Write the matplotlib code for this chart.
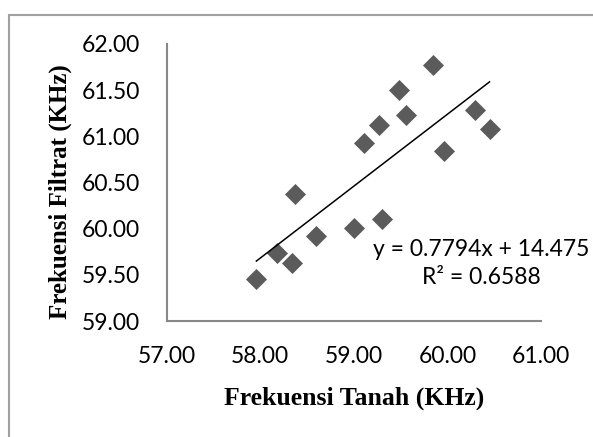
"""
Scatter of soil frequency vs filtrate frequency with a linear trendline.
"""

import matplotlib

matplotlib.use("Agg")
import matplotlib.pyplot as plt  # noqa: E402
import numpy as np  # noqa: E402
from matplotlib.patches import Rectangle  # noqa: E402

# values
frek_tanah = [57.96, 58.18, 58.34, 58.37, 58.60, 59.00, 59.30, 59.11,
              59.27, 59.48, 59.56, 59.85, 59.96, 60.29, 60.45]
frek_filtrat = [59.45, 59.74, 59.63, 60.38, 59.92, 60.01, 60.10, 60.93,
                61.12, 61.50, 61.23, 61.77, 60.84, 61.28, 61.08]
slope = 0.7794
intercept = 14.475
r_squared = 0.6588

x_ticks = [57.0, 58.0, 59.0, 60.0, 61.0]
y_ticks = [59.0, 59.5, 60.0, 60.5, 61.0, 61.5, 62.0]

TICK_FONT = "Lato"
LABEL_FONT = "Liberation Serif"


def main():
    W, H = 593, 437
    fig = plt.figure(figsize=(W / 100, H / 100), dpi=100)

    # outer chart frame (runs off the right and bottom edges)
    fig.patches.append(
        Rectangle((9 / W, -0.1), 1.2, 1 - 15 / H + 0.1,
                  transform=fig.transFigure, fill=False,
                  edgecolor="#a0a0a0", linewidth=1.5)
    )

    ax = fig.add_axes([166.5 / W, 1 - 321 / H, (541 - 166.5) / W, (321 - 44) / H])

    ax.scatter(frek_tanah, frek_filtrat, marker="D", s=115,
               color="#5b5b5b", zorder=3, linewidths=0)

    xs = np.array([min(frek_tanah), max(frek_tanah)])
    ax.plot(xs, slope * xs + intercept, color="black", linewidth=1.1, zorder=4)

    ax.set_xlim(x_ticks[0], x_ticks[-1])
    ax.set_ylim(y_ticks[0], y_ticks[-1])
    ax.set_xticks(x_ticks)
    ax.set_yticks(y_ticks)
    ax.set_xticklabels([f"{v:.2f}" for v in x_ticks], fontfamily=TICK_FONT, fontsize=16.5)
    ax.set_yticklabels([f"{v:.2f}" for v in y_ticks], fontfamily=TICK_FONT, fontsize=16.5)
    ax.tick_params(axis="both", length=0, colors="black")
    ax.tick_params(axis="y", pad=19)
    ax.tick_params(axis="x", pad=18)

    for side in ("top", "right"):
        ax.spines[side].set_visible(False)
    for side in ("left", "bottom"):
        ax.spines[side].set_color("#878787")
        ax.spines[side].set_linewidth(1.5)

    fig.text(481 / W, 1 - 250 / H, f"y = {slope}x + {intercept}", ha="center", va="center",
             fontfamily=TICK_FONT, fontsize=16.5)
    fig.text(481 / W, 1 - 277 / H, f"R² = {r_squared}", ha="center", va="center",
             fontfamily=TICK_FONT, fontsize=16.5)

    fig.text(354 / W, 1 - 398 / H, "Frekuensi Tanah (KHz)", ha="center", va="center",
             fontfamily=LABEL_FONT, fontweight="bold", fontsize=18.5)
    fig.text(60 / W, 1 - 191.5 / H, "Frekuensi Filtrat (KHz)", ha="center", va="center",
             rotation=90, fontfamily=LABEL_FONT, fontweight="bold", fontsize=18)

    fig.savefig("out.png", dpi=100)
    plt.close(fig)


if __name__ == "__main__":
    main()
